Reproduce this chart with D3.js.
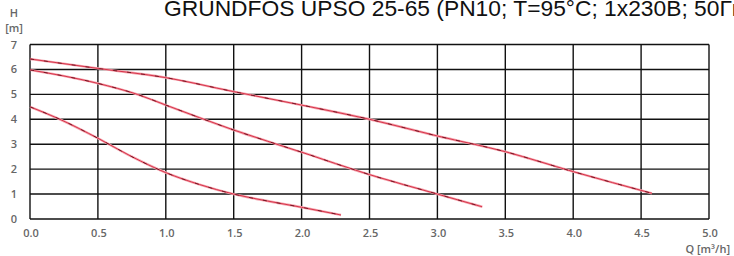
<!DOCTYPE html>
<html>
<head>
<meta charset="utf-8">
<script src="https://cdn.jsdelivr.net/npm/d3@7"></script>
<style>
  body { margin: 0; background: #fff; overflow: hidden; }
  svg { display: block; }
  .tick-label { font-family: "Open Sans", sans-serif; font-size: 11px; font-weight: 600; fill: #666; }
</style>
</head>
<body>
<div id="chart"></div>
<script>
// Pump curves, Q [m3/h] vs H [m]
var speed1Q = [0, 0.22, 0.5, 0.75, 1.0, 1.25, 1.5, 1.75, 2.0, 2.29],
    speed1H = [4.5, 4.0, 3.24, 2.5, 1.86, 1.38, 1.0, 0.72, 0.47, 0.16];
var speed2Q = [0, 0.5, 0.79, 1.0, 1.5, 2.0, 2.5, 3.0, 3.33],
    speed2H = [5.98, 5.44, 5.0, 4.57, 3.57, 2.68, 1.78, 1.0, 0.49];
var speed3Q = [0, 0.5, 1.0, 1.5, 2.0, 2.5, 3.0, 3.5, 4.0, 4.58],
    speed3H = [6.42, 6.04, 5.67, 5.11, 4.57, 4.0, 3.33, 2.7, 1.9, 1.03];

var xTicks = [0, 0.5, 1, 1.5, 2, 2.5, 3, 3.5, 4, 4.5, 5],
    yTicks = [0, 1, 2, 3, 4, 5, 6, 7];

var title = "GRUNDFOS UPSO 25-65 (PN10; T=95°C; 1x230B; 50Гц)";

// Geometry
var width = 734, height = 256;
var margin = {top: 44.5, right: 25, bottom: 37, left: 30};

var svg = d3.select('#chart').append('svg')
    .attr('width', width)
    .attr('height', height);

var x = d3.scaleLinear().domain([0, 5]).range([margin.left, width - margin.right]);
var y = d3.scaleLinear().domain([0, 7]).range([height - margin.bottom, margin.top]);

// Title (clipped at the top and right like the source)
svg.append('text')
    .attr('x', 164)
    .attr('y', 15.5)
    .style('font-family', 'Liberation Sans, Arial, sans-serif')
    .style('font-size', '22.8px')
    .style('fill', '#111')
    .text(title);

// Grid
svg.append('g').selectAll('line')
  .data(xTicks)
  .enter().append('line')
    .attr('x1', function(d) { return x(d); })
    .attr('x2', function(d) { return x(d); })
    .attr('y1', y(0))
    .attr('y2', y(7))
    .attr('stroke', '#111')
    .attr('stroke-width', 1.4);

svg.append('g').selectAll('line')
  .data(yTicks)
  .enter().append('line')
    .attr('x1', x(0))
    .attr('x2', x(5))
    .attr('y1', function(d) { return y(d); })
    .attr('y2', function(d) { return y(d); })
    .attr('stroke', '#111')
    .attr('stroke-width', 1.4);

// Curves
var curves = [
  d3.zip(speed1Q, speed1H),
  d3.zip(speed2Q, speed2H),
  d3.zip(speed3Q, speed3H)
];

var line = d3.line()
    .x(function(d) { return x(d[0]); })
    .y(function(d) { return y(d[1]); })
    .curve(d3.curveMonotoneX);

var cg = svg.append('g');
cg.selectAll('path.halo')
  .data(curves)
  .enter().append('path')
    .attr('class', 'halo')
    .attr('d', line)
    .attr('fill', 'none')
    .attr('stroke', '#f4a6b0')
    .attr('stroke-width', 2.4);

cg.selectAll('path.core')
  .data(curves)
  .enter().append('path')
    .attr('class', 'core')
    .attr('d', line)
    .attr('fill', 'none')
    .attr('stroke', '#d8344a')
    .attr('stroke-width', 1);

cg.selectAll('path.dash')
  .data(curves)
  .enter().append('path')
    .attr('class', 'dash')
    .attr('d', line)
    .attr('fill', 'none')
    .attr('stroke', '#6a1420')
    .attr('stroke-width', 0.9)
    .attr('stroke-dasharray', '4,10');

// Tick labels
svg.append('g').selectAll('text')
  .data(yTicks)
  .enter().append('text')
    .attr('class', 'tick-label')
    .attr('x', 14)
    .attr('y', function(d) { return y(d) + 4; })
    .attr('text-anchor', 'middle')
    .text(function(d) { return d; });

svg.append('g').selectAll('text')
  .data(xTicks)
  .enter().append('text')
    .attr('class', 'tick-label')
    .attr('x', function(d) { return x(d) + 1; })
    .attr('y', 237)
    .attr('text-anchor', 'middle')
    .text(function(d) { return d3.format('.1f')(d); });

// Axis titles
svg.append('text').attr('class', 'tick-label')
    .attr('x', 14).attr('y', 17).attr('text-anchor', 'middle').text('H');
svg.append('text').attr('class', 'tick-label')
    .attr('x', 14).attr('y', 32).attr('text-anchor', 'middle').text('[m]');
svg.append('text').attr('class', 'tick-label')
    .attr('x', 730).attr('y', 253).attr('text-anchor', 'end').text('Q [m³/h]');
</script>
</body>
</html>
